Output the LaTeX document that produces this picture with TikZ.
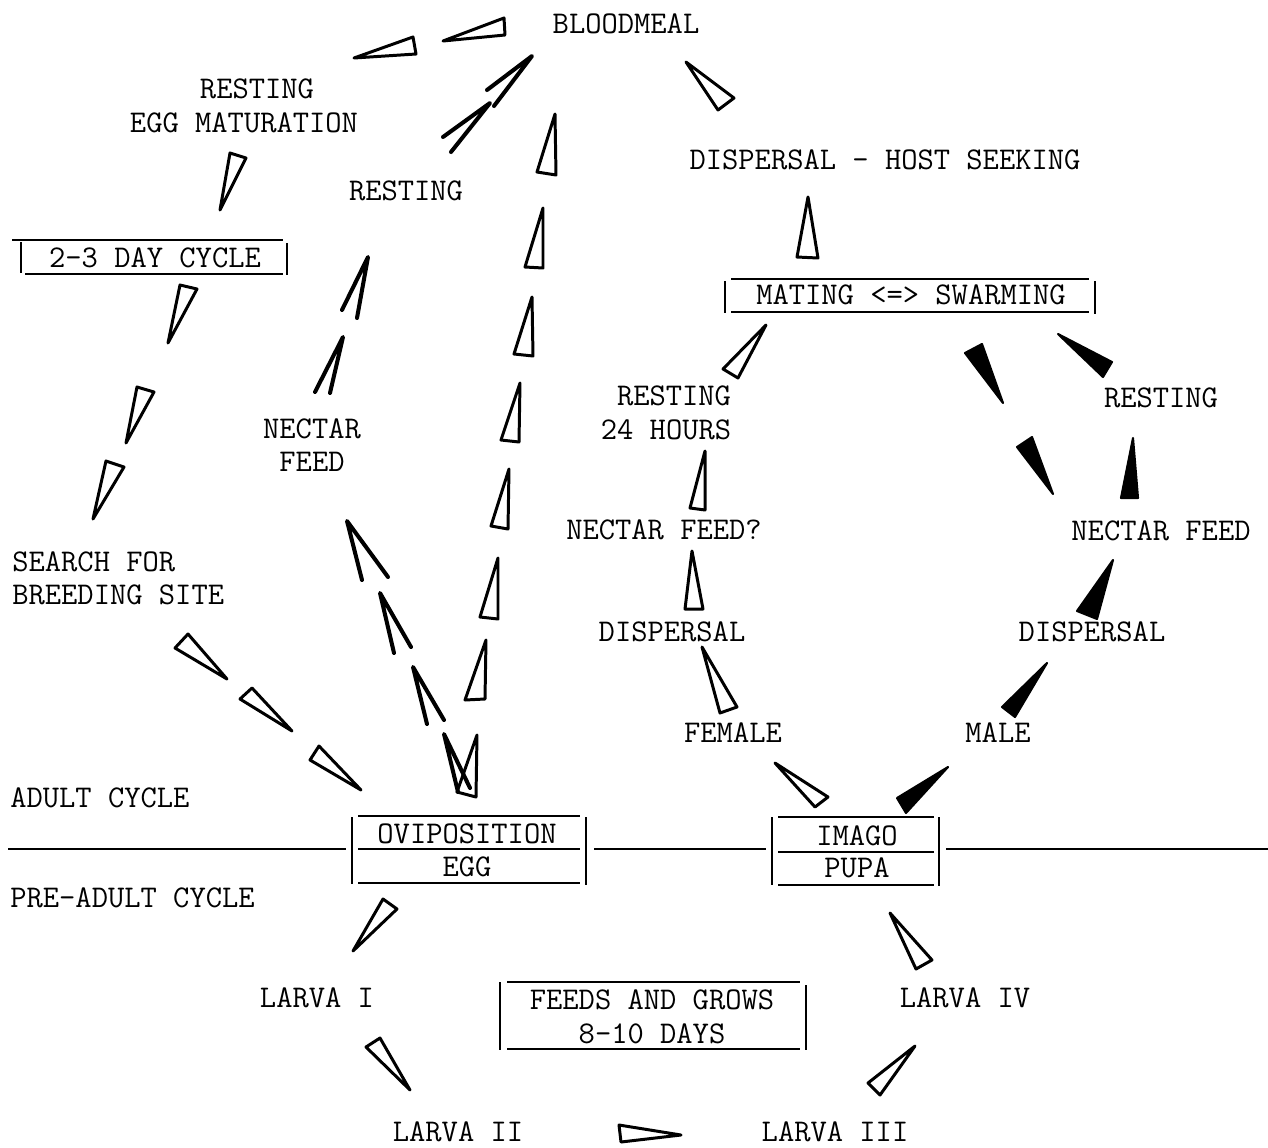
\documentclass[tikz,border=0pt]{standalone}
\begin{document}
\begin{tikzpicture}[x=0.02cm,y=-0.02cm,
  lbl/.style={font=\ttfamily\fontsize{18}{20}\selectfont, inner sep=0pt},
  wedge/.style={draw, line width=1.7pt, line join=round},
  fwedge/.style={draw, fill=black, line width=1.2pt, line join=round},
  chev/.style={line width=2.3pt, line cap=round, line join=round},
  rule/.style={line width=1.3pt}]
\useasboundingbox (0,0) rectangle (1268,1147);

% ---- labels ----
\node[lbl] (bloodmeal) at (626,24) {BLOODMEAL};
\node[lbl] (rest1) at (257,89) {RESTING};
\node[lbl] (eggmat) at (244,123) {EGG MATURATION};
\node[lbl] (rest2) at (406,191) {RESTING};
\node[lbl] (hostseek) at (885,160) {DISPERSAL \textendash{} HOST SEEKING};
\node[lbl] (cycle) at (155,258) {2\textendash3 DAY CYCLE};
\node[lbl] (mating) at (911,295) {MATING <=> SWARMING};
\node[lbl] (nectar1) at (312,429) {NECTAR};
\node[lbl] (feed1) at (312,462) {FEED};
\node[lbl, anchor=west] (search) at (12,562) {SEARCH FOR};
\node[lbl, anchor=west] (breed) at (12,595) {BREEDING SITE};
\node[lbl] (rest3) at (674,396) {RESTING};
\node[lbl] (hours) at (666,430) {24 HOURS};
\node[lbl] (rest4) at (1161,398) {RESTING};
\node[lbl] (nfq) at (664,530) {NECTAR FEED?};
\node[lbl] (nfr) at (1161,531) {NECTAR FEED};
\node[lbl] (displ) at (672,632) {DISPERSAL};
\node[lbl] (dispr) at (1092,632) {DISPERSAL};
\node[lbl] (female) at (733,733) {FEMALE};
\node[lbl] (male) at (998,733) {MALE};
\node[lbl, anchor=west] (adult) at (10,798) {ADULT CYCLE};
\node[lbl, anchor=west] (preadult) at (10,898) {PRE\textendash ADULT CYCLE};
\node[lbl] (ovi) at (467,834) {OVIPOSITION};
\node[lbl] (egg) at (467,867) {EGG};
\node[lbl] (imago) at (857,836) {IMAGO};
\node[lbl] (pupa) at (857,868) {PUPA};
\node[lbl] (larva1) at (317,998) {LARVA I};
\node[lbl] (larva4) at (965,998) {LARVA IV};
\node[lbl] (feeds) at (652,1000) {FEEDS AND GROWS};
\node[lbl] (days) at (652,1034) {8\textendash10 DAYS};
\node[lbl] (larva2) at (458,1132) {LARVA II};
\node[lbl] (larva3) at (835,1132) {LARVA III};

% ---- boxes ----
\draw[rule] (12,240) -- (283,240);
\draw[rule] (25,274) -- (283,274);
\draw[rule] (21,242) -- (21,273);
\draw[rule] (287,243) -- (287,275);

\draw[rule] (731,279) -- (1089,279);
\draw[rule] (731,312) -- (1089,312);
\draw[rule] (725,281) -- (725,313);
\draw[rule] (1095,281) -- (1095,314);

\draw[rule] (352,817) -- (352,884);
\draw[rule] (586,817) -- (586,885);
\draw[rule] (358,816) -- (580,816);
\draw[rule] (358,849) -- (580,849);
\draw[rule] (358,883) -- (580,883);

\draw[rule] (772,817) -- (772,885);
\draw[rule] (939,817) -- (939,886);
\draw[rule] (778,817) -- (934,817);
\draw[rule] (778,852) -- (934,852);
\draw[rule] (778,885) -- (934,885);

\draw[rule] (500,982) -- (500,1050);
\draw[rule] (806,985) -- (806,1050);
\draw[rule] (507,982) -- (800,982);
\draw[rule] (507,1049) -- (800,1049);

% divider
\draw[rule] (8,849) -- (346,849);
\draw[rule] (594,849) -- (766,849);
\draw[rule] (946,849) -- (1268,849);

% ---- open wedges ----
\draw[wedge] (443,41) -- (504,18) -- (505,35) -- cycle;
\draw[wedge] (354,58) -- (413,37) -- (416,54) -- cycle;
\draw[wedge] (686,62) -- (734,98) -- (718,110) -- cycle;
\draw[wedge] (220,210) -- (230,153) -- (246,158) -- cycle;
\draw[wedge] (168,343) -- (180,285) -- (197,289) -- cycle;
\draw[wedge] (126,443) -- (137,387) -- (154,392) -- cycle;
\draw[wedge] (93,519) -- (106,461) -- (124,467) -- cycle;
\draw[wedge] (227,679) -- (175,648) -- (188,634) -- cycle;
\draw[wedge] (292,731) -- (240,699) -- (252,688) -- cycle;
\draw[wedge] (361,790) -- (310,760) -- (319,746) -- cycle;
\draw[wedge] (555,114) -- (537,172) -- (556,175) -- cycle;
\draw[wedge] (543,208) -- (525,267) -- (543,268) -- cycle;
\draw[wedge] (532,297) -- (514,354) -- (533,356) -- cycle;
\draw[wedge] (520,383) -- (501,440) -- (519,442) -- cycle;
\draw[wedge] (509,469) -- (491,526) -- (508,529) -- cycle;
\draw[wedge] (498,558) -- (480,617) -- (498,619) -- cycle;
\draw[wedge] (486,640) -- (465,700) -- (485,699) -- cycle;
\draw[wedge] (477,735) -- (457,792) -- (476,797) -- cycle;
\draw[wedge] (808,197) -- (797,257) -- (818,258) -- cycle;
\draw[wedge] (766,325) -- (723,369) -- (738,378) -- cycle;
\draw[wedge] (705,451) -- (690,508) -- (705,510) -- cycle;
\draw[wedge] (692,551) -- (685,609) -- (703,609) -- cycle;
\draw[wedge] (702,647) -- (720,713) -- (737,707) -- cycle;
\draw[wedge] (775,763) -- (815,807) -- (828,797) -- cycle;
\draw[wedge] (353,951) -- (383,899) -- (397,909) -- cycle;
\draw[wedge] (410,1090) -- (366,1047) -- (380,1038) -- cycle;
\draw[wedge] (681,1135) -- (619,1125) -- (621,1142) -- cycle;
\draw[wedge] (915,1046) -- (868,1083) -- (880,1095) -- cycle;
\draw[wedge] (890,913) -- (916,969) -- (932,960) -- cycle;

% ---- filled wedges ----
\draw[fwedge] (1003,403) -- (965,353) -- (982,344) -- cycle;
\draw[fwedge] (1053,494) -- (1017,447) -- (1032,437) -- cycle;
\draw[fwedge] (1058,334) -- (1112,362) -- (1103,377) -- cycle;
\draw[fwedge] (1133,438) -- (1121,498) -- (1138,498) -- cycle;
\draw[fwedge] (1113,560) -- (1077,611) -- (1097,619) -- cycle;
\draw[fwedge] (1047,663) -- (1002,707) -- (1015,717) -- cycle;
\draw[fwedge] (948,767) -- (897,798) -- (906,813) -- cycle;

% ---- chevrons ----
\draw[chev] (487,90) -- (532,56) -- (494,106);
\draw[chev] (443,137) -- (490,103) -- (451,152);
\draw[chev] (342,310) -- (368,257) -- (357,318);
\draw[chev] (315,392) -- (343,337) -- (330,393);
\draw[chev] (362,580) -- (347,521) -- (388,577);
\draw[chev] (394,653) -- (380,593) -- (411,647);
\draw[chev] (427,724) -- (413,667) -- (444,720);
\draw[chev] (458,792) -- (444,734) -- (470,788);
\end{tikzpicture}
\end{document}
